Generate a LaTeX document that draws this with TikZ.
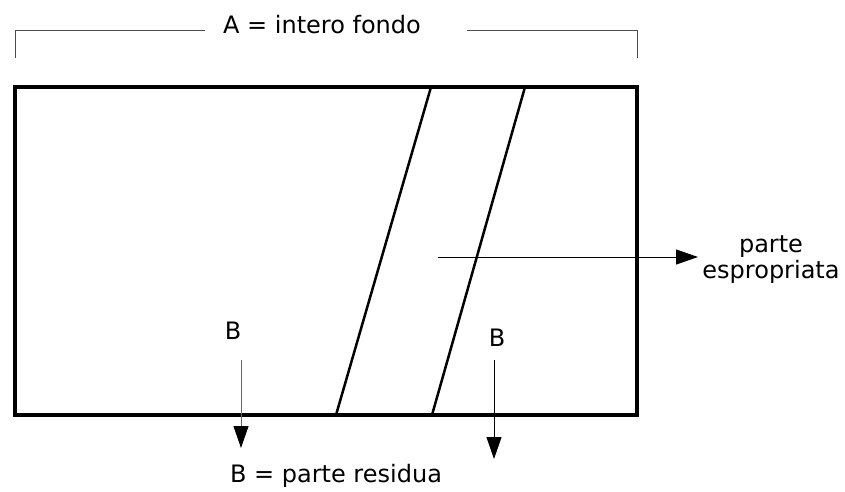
\documentclass[tikz,border=0pt]{standalone}
\usepackage{fontspec}
\setmainfont{DejaVu Sans}
\usetikzlibrary{arrows.meta}
\begin{document}
\begin{tikzpicture}[x=1pt,y=-1pt,
  lbl/.style={font=\fontsize{24}{28}\selectfont, inner sep=0pt, align=center},
  arr/.style={line width=1pt, -{Triangle[length=22pt,width=15pt,fill=black,color=black]}},
  frame/.style={line width=4pt},
  slant/.style={line width=2.5pt},
  brk/.style={line width=0.8pt, draw=black!70}]
\useasboundingbox (0,0) rectangle (845,491);
% bracket
\coordinate (bl) at (15,58);
\coordinate (blt) at (15,30);
\coordinate (bll) at (205,30);
\coordinate (brl) at (467,30);
\coordinate (brt) at (637,30);
\coordinate (br) at (637,58);
\draw[brk] (bl) -- (blt) -- (bll);
\draw[brk] (brl) -- (brt) -- (br);
\node[lbl] (A) at (322,25) {A = intero fondo};
% rectangle
\draw[frame] (15,87) rectangle (637,415);
% slanted lines
\coordinate (s1t) at (431,87);
\coordinate (s1b) at (336,415);
\coordinate (s2t) at (525,87);
\coordinate (s2b) at (432,415);
\draw[slant] (s1t) -- (s1b);
\draw[slant] (s2t) -- (s2b);
% horizontal arrow
\coordinate (h0) at (438,257);
\coordinate (h1) at (698,257);
\draw[arr] (h0) -- (h1);
\node[lbl] (pe) at (771,260) {parte\\[-2pt]espropriata};
% B labels and arrows
\node[lbl] (B1) at (233,331) {B};
\node[lbl] (B2) at (497,338) {B};
\coordinate (a1s) at (241,360);
\coordinate (a1e) at (241,448);
\coordinate (a2s) at (494,360);
\coordinate (a2e) at (494,459);
\draw[arr, draw=black!60] (a1s) -- (a1e);
\draw[arr] (a2s) -- (a2e);
\node[lbl] (res) at (336,476) {B = parte residua};
\end{tikzpicture}
\end{document}
